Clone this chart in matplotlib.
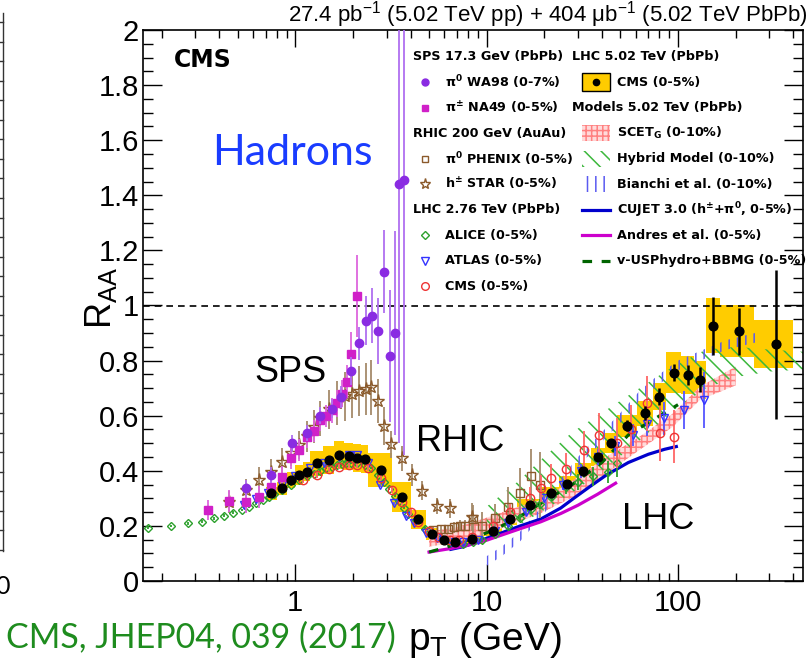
import numpy as np
import matplotlib
matplotlib.use('Agg')
import matplotlib.pyplot as plt
import matplotlib.ticker as mticker
from matplotlib.patches import Rectangle
from matplotlib.lines import Line2D

plt.rcParams['font.family'] = ['Liberation Sans', 'DejaVu Sans']
plt.rcParams['mathtext.default'] = 'regular'
plt.rcParams['hatch.linewidth'] = 1.1

# ---------------- data ----------------
# SPS WA98 pi0 (0-7%)
pt_wa98 = [0.55, 0.75, 0.96, 1.15, 1.35, 1.55, 1.73, 1.96, 2.16, 2.34, 2.52, 2.71, 2.92, 3.12, 3.31, 3.50, 3.72]
r_wa98 = [0.337, 0.385, 0.50, 0.538, 0.60, 0.625, 0.669, 0.763, 0.863, 0.945, 0.963, 0.907, 1.123, 0.817, 0.899, 1.441, 1.456]
e_wa98 = [0.03, 0.03, 0.03, 0.03, 0.03, 0.035, 0.04, 0.05, 0.06, 0.09, 0.10, 0.12, 0.15, 0.24, 0.37, 0.94, 1.0]
# SPS NA49 pi+- (0-5%)
pt_na49 = [0.35, 0.45, 0.55, 0.65, 0.75, 0.85, 0.95, 1.05, 1.15, 1.25, 1.35, 1.45, 1.55, 1.65, 1.75, 1.86, 1.96, 2.10]
r_na49 = [0.258, 0.29, 0.288, 0.306, 0.342, 0.379, 0.445, 0.475, 0.524, 0.545, 0.585, 0.60, 0.62, 0.645, 0.68, 0.724, 0.824, 1.035]
e_na49 = [0.035, 0.04, 0.04, 0.04, 0.04, 0.04, 0.04, 0.04, 0.04, 0.04, 0.04, 0.04, 0.045, 0.05, 0.05, 0.06, 0.08, 0.15]
# RHIC PHENIX pi0 (0-5%)
pt_phenix = [5.25, 5.75, 6.25, 6.75, 7.25, 7.75, 8.5, 9.5, 11.0, 13.0, 15.0, 17.0, 19.0]
r_phenix = [0.185, 0.19, 0.19, 0.195, 0.2, 0.2, 0.225, 0.20, 0.23, 0.27, 0.32, 0.38, 0.35]
e_phenix = [0.015, 0.015, 0.015, 0.02, 0.02, 0.02, 0.05, 0.05, 0.05, 0.07, 0.09, 0.10, 0.12]
# RHIC STAR h+- (0-5%)
pt_star = [0.45, 0.55, 0.65, 0.75, 0.85, 0.95, 1.05, 1.15, 1.25, 1.35, 1.50, 1.65, 1.82, 1.99, 2.16, 2.33, 2.49,
           2.71, 2.90, 3.17, 3.59, 4.05, 4.60, 5.50, 6.47, 8.4]
r_star = [0.288, 0.33, 0.367, 0.397, 0.433, 0.466, 0.494, 0.525, 0.56, 0.59, 0.623, 0.645, 0.67, 0.68, 0.69, 0.696,
          0.703, 0.654, 0.563, 0.496, 0.445, 0.385, 0.328, 0.272, 0.264, 0.233]
e_star = [0.04, 0.04, 0.045, 0.045, 0.05, 0.05, 0.05, 0.055, 0.06, 0.065, 0.07, 0.08, 0.09, 0.09, 0.09, 0.095,
          0.1, 0.08, 0.07, 0.05, 0.045, 0.04, 0.035, 0.03, 0.035, 0.05]
# LHC 2.76 ALICE (0-5%)
pt_alice = [0.17, 0.225, 0.275, 0.325, 0.375, 0.425, 0.475, 0.525, 0.575, 0.625,
            0.675, 0.725, 0.775, 0.85, 0.95, 1.05, 1.15, 1.25, 1.35, 1.45,
            1.55, 1.65, 1.75, 1.85, 1.95, 2.1, 2.3, 2.5, 2.7, 2.9,
            3.1, 3.3, 3.5, 3.7, 3.9, 4.25, 4.75, 5.25, 5.75, 6.5,
            7.5, 8.5, 9.5, 11, 13, 15, 17, 19, 22, 26,
            30, 36, 43, 48]
r_alice = [0.193, 0.20, 0.209, 0.215, 0.227, 0.237, 0.248, 0.258, 0.27, 0.282,
           0.294, 0.305, 0.315, 0.33, 0.35, 0.365, 0.38, 0.39, 0.40, 0.41,
           0.415, 0.42, 0.425, 0.43, 0.43, 0.43, 0.42, 0.41, 0.385, 0.36,
           0.335, 0.31, 0.29, 0.265, 0.245, 0.22, 0.19, 0.17, 0.155, 0.14,
           0.135, 0.14, 0.15, 0.17, 0.2, 0.23, 0.26, 0.28, 0.31, 0.34,
           0.36, 0.38, 0.397, 0.427]
e_alice = [0.005, 0.005, 0.005, 0.005, 0.005, 0.005, 0.005, 0.005, 0.005, 0.005,
           0.005, 0.005, 0.005, 0.005, 0.005, 0.005, 0.005, 0.005, 0.005, 0.005,
           0.005, 0.005, 0.005, 0.005, 0.005, 0.005, 0.005, 0.005, 0.005, 0.005,
           0.005, 0.005, 0.005, 0.005, 0.005, 0.005, 0.005, 0.005, 0.005, 0.005,
           0.005, 0.006, 0.007, 0.008, 0.01, 0.012, 0.015, 0.018, 0.02, 0.025,
           0.03, 0.035, 0.04, 0.05]
# LHC 2.76 ATLAS (0-5%)
pt_atlas = [0.54, 0.62, 0.72, 0.85, 1.0, 1.2, 1.41, 1.69, 1.9, 2.1,
            2.4, 2.78, 3.27, 3.8, 4.16, 4.8, 5.5, 6.5, 7.5, 9.0,
            11, 13, 16, 20, 25, 31, 38, 47, 58, 69,
            85, 107, 136]
r_atlas = [0.276, 0.296, 0.32, 0.35, 0.38, 0.41, 0.427, 0.451, 0.457, 0.457,
           0.43, 0.348, 0.282, 0.235, 0.209, 0.175, 0.155, 0.14, 0.14, 0.15,
           0.18, 0.21, 0.25, 0.3, 0.35, 0.40, 0.45, 0.49, 0.53, 0.57,
           0.59, 0.62, 0.657]
e_atlas = [0.005, 0.005, 0.005, 0.005, 0.005, 0.005, 0.005, 0.005, 0.005, 0.005,
           0.005, 0.005, 0.005, 0.005, 0.005, 0.005, 0.005, 0.005, 0.005, 0.006,
           0.008, 0.01, 0.012, 0.015, 0.02, 0.025, 0.03, 0.035, 0.04, 0.045,
           0.06, 0.07, 0.1]
# LHC 2.76 CMS (0-5%)
pt_cms276 = [1.1, 1.3, 1.5, 1.7, 1.9, 2.1, 2.4, 2.8, 3.2, 3.6,
             4.0, 4.4, 5.0, 5.6, 6.4, 7.2, 8.4, 10.8, 13.2, 16.8,
             19.2, 21.6, 26.0, 32.4, 38.6, 48.0, 57.0, 69.0, 81.0, 95.0]
r_cms276 = [0.365, 0.385, 0.405, 0.415, 0.42, 0.42, 0.41, 0.375, 0.33, 0.285,
            0.25, 0.215, 0.18, 0.16, 0.15, 0.15, 0.16, 0.2, 0.25, 0.3,
            0.336, 0.375, 0.406, 0.475, 0.53, 0.5, 0.55, 0.645, 0.536, 0.524]
e_cms276 = [0.01, 0.01, 0.01, 0.01, 0.01, 0.01, 0.01, 0.01, 0.01, 0.01,
            0.01, 0.01, 0.01, 0.01, 0.01, 0.01, 0.015, 0.02, 0.03, 0.04,
            0.05, 0.05, 0.06, 0.07, 0.08, 0.09, 0.09, 0.1, 0.1, 0.095]
# LHC 5.02 CMS (0-5%)
edges_cms502 = [0.7, 0.8, 0.9, 1.0, 1.1, 1.2, 1.4, 1.6, 1.8, 2.0, 2.2, 2.4, 3.2, 4.0, 4.8, 5.6, 6.4, 7.2, 9.6,
                12.0, 14.4, 19.2, 24.0, 28.8, 35.2, 41.6, 48.0, 60.8, 73.6, 86.4, 103.6, 120.8, 140.0, 165.0,
                250.0, 400.0]
pt_cms502 = [0.75, 0.85, 0.95, 1.05, 1.15, 1.3, 1.5, 1.7, 1.9, 2.1, 2.3, 2.8, 3.6, 4.4, 5.2, 6.0, 6.8, 8.4,
             10.8, 13.2, 16.8, 21.6, 26.4, 32.0, 38.4, 44.8, 54.4, 67.2, 80.0, 95.0, 112.2, 130.4, 152.5,
             207.5, 325.0]
r_cms502 = [0.318, 0.336, 0.367, 0.385, 0.397, 0.427, 0.439, 0.457, 0.452, 0.447, 0.442, 0.403, 0.306, 0.224,
            0.17, 0.148, 0.14, 0.151, 0.181, 0.224, 0.276, 0.318, 0.352, 0.40, 0.451, 0.502, 0.564, 0.609,
            0.669, 0.756, 0.748, 0.73, 0.926, 0.907, 0.859]
stat_cms502 = [0.004, 0.004, 0.004, 0.004, 0.004, 0.004, 0.004, 0.004, 0.004, 0.004, 0.004, 0.004, 0.004,
               0.004, 0.004, 0.004, 0.004, 0.004, 0.005, 0.006, 0.007, 0.008, 0.009, 0.01, 0.012, 0.015,
               0.02, 0.025, 0.03, 0.03, 0.035, 0.045, 0.105, 0.085, 0.27]
syst_cms502 = [0.025, 0.025, 0.03, 0.035, 0.035, 0.045, 0.05, 0.05, 0.05, 0.05, 0.05, 0.06, 0.055,
               0.035, 0.022, 0.017, 0.016, 0.016, 0.018, 0.02, 0.022, 0.025, 0.028, 0.03, 0.033, 0.036,
               0.04, 0.045, 0.05, 0.075, 0.07, 0.07, 0.10, 0.095, 0.087]
# Models 5.02 TeV
pt_scet = [5, 7, 10, 14, 19.2, 28.5, 42.3, 63, 94.5, 130, 200]
lo_scet = [0.125, 0.14, 0.17, 0.21, 0.246, 0.306, 0.391, 0.476, 0.561, 0.657, 0.71]
hi_scet = [0.18, 0.195, 0.23, 0.265, 0.294, 0.367, 0.451, 0.524, 0.609, 0.705, 0.778]
pt_hybrid = [10, 14.5, 19.2, 28, 42, 63, 95, 140, 200, 300, 500]
lo_hybrid = [0.16, 0.2, 0.25, 0.32, 0.41, 0.51, 0.62, 0.7, 0.74, 0.76, 0.77]
hi_hybrid = [0.27, 0.36, 0.44, 0.54, 0.62, 0.7, 0.78, 0.84, 0.85, 0.84, 0.83]
pt_bianchi = [10, 12, 15, 20, 25, 30, 40, 50, 63, 78, 100, 136, 180, 270]
lo_bianchi = [0.055, 0.09, 0.145, 0.245, 0.345, 0.415, 0.505, 0.575, 0.655, 0.71, 0.765, 0.805, 0.84, 0.87]
hi_bianchi = [0.09, 0.125, 0.18, 0.28, 0.38, 0.45, 0.54, 0.61, 0.69, 0.745, 0.80, 0.84, 0.875, 0.905]
pt_cujet = [6.5, 7.6, 10, 12, 15, 19.2, 24.4, 28.5, 35, 42.3, 55, 70, 85, 98]
r_cujet = [0.115, 0.125, 0.155, 0.175, 0.2, 0.225, 0.265, 0.3, 0.345, 0.385, 0.43, 0.46, 0.478, 0.488]
pt_andres = [5, 6.5, 8, 10, 12, 15, 19.2, 24.4, 30, 38, 47.2]
r_andres = [0.105, 0.118, 0.13, 0.148, 0.167, 0.19, 0.215, 0.245, 0.275, 0.315, 0.355]
pt_vusp = [5, 6, 7, 8.5, 10, 12, 15, 20, 28, 40, 55, 70, 85, 100]
r_vusp = [0.105, 0.12, 0.135, 0.155, 0.175, 0.2, 0.235, 0.29, 0.35, 0.43, 0.53, 0.575, 0.61, 0.64]

# ---------------- colours ----------------
c_wa98 = '#8a2be2'
c_na49 = '#d020c8'
c_brown = '#8b5a2b'
c_alice = '#2ca02c'
c_atlas = '#3333ff'
c_cms276 = '#ee3333'
c_yellow = '#ffcc00'
c_hyb = '#3cb83c'

W, H = 812, 661
fig = plt.figure(figsize=(W / 100, H / 100), dpi=100)
ax = fig.add_axes([143 / W, 80 / H, 660 / W, 551 / H])
ax.set_xscale('log')
ax.set_xlim(0.16, 450)
ax.set_ylim(0, 2)

# systematic boxes CMS 5.02
lo_e = np.array(edges_cms502[:-1])
hi_e = np.array(edges_cms502[1:])
r5 = np.array(r_cms502)
s5 = np.array(syst_cms502)
ax.bar(lo_e, 2 * s5, width=hi_e - lo_e, bottom=r5 - s5, align='edge', color=c_yellow, lw=0, zorder=1)

# models
ax.fill_between(pt_scet, lo_scet, hi_scet, facecolor='#ffdada', edgecolor='#ff8080', hatch='+++', lw=0,
                zorder=2)
ax.fill_between(pt_hybrid, lo_hybrid, hi_hybrid, facecolor='none', edgecolor=c_hyb, hatch='\\\\', lw=0,
                zorder=2.2)
ax.fill_between(pt_bianchi, lo_bianchi, hi_bianchi, facecolor='none', edgecolor='#5a5af0', hatch='||', lw=0,
                zorder=2.3)
ax.plot(pt_cujet, r_cujet, color='#0000cc', lw=2.3, zorder=3)
ax.plot(pt_andres, r_andres, color='#cc00cc', lw=2.3, zorder=3)
ax.plot(pt_vusp, r_vusp, color='#006400', lw=2.3, ls=(0, (3, 3)), zorder=3.1)

ax.axhline(1.0, color='black', lw=1.2, ls=(0, (4, 3)), zorder=1.5)

eb = dict(ls='none', elinewidth=1.3, capsize=0)
ax.errorbar(pt_star, r_star, yerr=e_star, marker='*', ms=9.5, mfc='none', mec=c_brown, mew=1.0,
            ecolor='#a58a6a', zorder=4, **eb)
ax.errorbar(pt_phenix, r_phenix, yerr=e_phenix, marker='s', ms=5.5, mfc='none', mec=c_brown, mew=1.0,
            ecolor='#a58a6a', zorder=4, **eb)
ax.errorbar(pt_na49, r_na49, yerr=e_na49, marker='s', ms=5.5, mfc=c_na49, mec=c_na49,
            ecolor='#dd66dd', zorder=5, **eb)
ax.errorbar(pt_wa98, r_wa98, yerr=e_wa98, marker='o', ms=6, mfc=c_wa98, mec=c_wa98,
            ecolor='#b070f0', zorder=5.1, **eb)
ax.errorbar(pt_alice, r_alice, yerr=e_alice, marker='D', ms=4.2, mfc='none', mec=c_alice, mew=1.0,
            ecolor=c_alice, zorder=4.2, **eb)
ax.errorbar(pt_atlas, r_atlas, yerr=e_atlas, marker='v', ms=6, mfc='none', mec=c_atlas, mew=1.0,
            ecolor='#5555ff', zorder=4.3, **eb)
ax.errorbar(pt_cms276, r_cms276, yerr=e_cms276, marker='o', ms=6, mfc='none', mec=c_cms276, mew=1.0,
            ecolor='#ff6666', zorder=4.4, **eb)
ax.errorbar(pt_cms502, r_cms502, yerr=stat_cms502, marker='o', ms=6.3, mfc='black', mec='black',
            ecolor='black', zorder=6, ls='none', elinewidth=1.8, capsize=0)

# axes styling
for sp in ax.spines.values():
    sp.set_linewidth(1.2)
ax.xaxis.set_major_locator(mticker.LogLocator(base=10))
ax.xaxis.set_minor_locator(mticker.LogLocator(base=10, subs=np.arange(2, 10)))
ax.xaxis.set_major_formatter(mticker.FuncFormatter(lambda v, p: f'{v:g}'))
ax.xaxis.set_minor_formatter(mticker.NullFormatter())
ax.yaxis.set_major_locator(mticker.MultipleLocator(0.2))
ax.yaxis.set_minor_locator(mticker.MultipleLocator(0.05))
ax.yaxis.set_major_formatter(mticker.FuncFormatter(lambda v, p: f'{v:g}'))
ax.tick_params(which='both', direction='in', top=True, right=True, width=1.0)
ax.tick_params(axis='x', which='major', length=12, labelsize=21, pad=6)
ax.tick_params(axis='x', which='minor', length=6)
ax.tick_params(axis='y', which='major', length=14, labelsize=21, pad=3)
ax.tick_params(axis='y', which='minor', length=7)

# labels
fig.text(101 / W, 1 - 298 / H, r'R$_{AA}$', rotation=90, fontsize=26, ha='center', va='center')
fig.text(408 / W, 1 - 650 / H, r'p$_T$ (GeV)', fontsize=28, ha='left', va='baseline')
fig.text(6 / W, 1 - 648 / H, 'CMS, JHEP04, 039 (2017)', fontsize=24.5, color='#1e8c1e',
         family=['Lato', 'DejaVu Sans'], ha='left', va='baseline')
fig.text(808 / W, 1 - 22 / H, r'27.4 pb$^{-1}$ (5.02 TeV pp) + 404 μb$^{-1}$ (5.02 TeV PbPb)',
         fontsize=16, ha='right', va='baseline')
ax.text(0.047, 0.933, 'CMS', transform=ax.transAxes, fontsize=17, fontweight='bold',
        family=['DejaVu Sans'], ha='left', va='baseline')
ax.text(2.53, 1.51, 'Hadrons', fontsize=31, color='#1a3cff', family=['Lato', 'DejaVu Sans'],
        ha='right', va='baseline')
ax.text(0.61, 0.722, 'SPS', fontsize=26, ha='left', va='baseline')
ax.text(4.25, 0.472, 'RHIC', fontsize=26, ha='left', va='baseline')
ax.text(50.9, 0.189, 'LHC', fontsize=26, ha='left', va='baseline')

# ---------------- legend (manual, axes fraction) ----------------
rows = [(581 - (56.7 + 25.5 * i)) / 551 for i in range(10)]
x1h, x1m, x1t = 0.409, 0.427, 0.4576
x2h, x2k, x2t = 0.650, 0.686, 0.718
kw_w, kw_h = 28 / 660, 16 / 551
lf = dict(transform=ax.transAxes, fontsize=9.2, fontweight='bold', family=['DejaVu Sans'],
          va='center', ha='left', zorder=10)

def key_marker(x, y, **kw):
    ax.plot([x], [y], transform=ax.transAxes, clip_on=False, ls='none', zorder=10, **kw)

col1 = [('SPS 17.3 GeV (PbPb)', None),
        ('π$^{0}$ WA98 (0-7%)', dict(marker='o', ms=5, mfc=c_wa98, mec=c_wa98)),
        ('π$^{\\pm}$ NA49 (0-5%)', dict(marker='s', ms=4.5, mfc=c_na49, mec=c_na49)),
        ('RHIC 200 GeV (AuAu)', None),
        ('π$^{0}$ PHENIX (0-5%)', dict(marker='s', ms=5, mfc='none', mec=c_brown)),
        ('h$^{\\pm}$ STAR (0-5%)', dict(marker='*', ms=8, mfc='none', mec=c_brown)),
        ('LHC 2.76 TeV (PbPb)', None),
        ('ALICE (0-5%)', dict(marker='D', ms=4, mfc='none', mec=c_alice)),
        ('ATLAS (0-5%)', dict(marker='v', ms=5.5, mfc='none', mec=c_atlas)),
        ('CMS (0-5%)', dict(marker='o', ms=5.5, mfc='none', mec=c_cms276))]
for (lab, mk), y in zip(col1, rows):
    if mk is None:
        ax.text(x1h, y, lab, **lf)
    else:
        key_marker(x1m, y, **mk)
        ax.text(x1t, y, lab, **lf)

# column 2
ax.text(x2h, rows[0], 'LHC 5.02 TeV (PbPb)', **lf)
ax.add_patch(Rectangle((x2k - kw_w / 2, rows[1] - 18 / 551 / 2), kw_w, 18 / 551, transform=ax.transAxes,
                       fc=c_yellow, ec='black', lw=1.0, clip_on=False, zorder=10))
key_marker(x2k, rows[1], marker='o', ms=4.5, mfc='black', mec='black')
ax.text(x2t, rows[1], 'CMS (0-5%)', **lf)
ax.text(x2h, rows[2], 'Models 5.02 TeV (PbPb)', **lf)
ax.add_patch(Rectangle((x2k - kw_w / 2, rows[3] - kw_h / 2), kw_w, kw_h, transform=ax.transAxes,
                       fc='#ffdada', ec='#ff8080', hatch='+++', lw=0, clip_on=False, zorder=10))
ax.text(x2t, rows[3], 'SCET$_G$ (0-10%)', **lf)
ax.add_patch(Rectangle((x2k - kw_w / 2, rows[4] - kw_h / 2), kw_w, kw_h, transform=ax.transAxes,
                       fc='none', ec=c_hyb, hatch='\\\\', lw=0, clip_on=False, zorder=10))
ax.text(x2t, rows[4], 'Hybrid Model (0-10%)', **lf)
ax.add_patch(Rectangle((x2k - kw_w / 2, rows[5] - kw_h / 2), kw_w, kw_h, transform=ax.transAxes,
                       fc='none', ec='#5a5af0', hatch='||', lw=0, clip_on=False, zorder=10))
ax.text(x2t, rows[5], 'Bianchi et al. (0-10%)', **lf)
for y, col, ls in [(rows[6], '#0000cc', '-'), (rows[7], '#cc00cc', '-'), (rows[8], '#006400', (0, (3, 3)))]:
    ax.plot([x2k - kw_w / 2, x2k + kw_w / 2], [y, y], transform=ax.transAxes, color=col, lw=2.3, ls=ls,
            clip_on=False, zorder=10)
ax.text(x2t, rows[6], 'CUJET 3.0 (h$^{\\pm}$+π$^{0}$, 0-5%)', **lf)
ax.text(x2t, rows[7], 'Andres et al. (0-5%)', **lf)
ax.text(x2t, rows[8], 'v-USPhydro+BBMG (0-5%)', **lf)

# ---------------- cropped neighbouring panel at the left edge ----------------
fig.add_artist(Line2D([3 / W, 3 / W], [1 - 13 / H, 1 - 551 / H], color='#333333', lw=1.0))
for k in range(28):
    yy = 1 - (22 + 19.55 * k) / H
    fig.add_artist(Line2D([0, 3 / W], [yy, yy], color='#333333', lw=1.0))
fig.text(-5 / W, 1 - 594 / H, '0', fontsize=18, family=['Lato', 'DejaVu Sans'], ha='left', va='baseline')

fig.savefig('out.png', dpi=100)
